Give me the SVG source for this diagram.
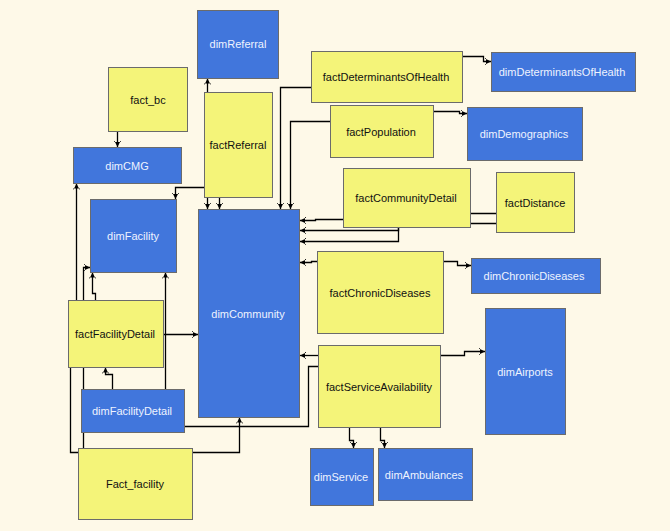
<svg xmlns="http://www.w3.org/2000/svg" width="670" height="531" viewBox="0 0 670 531">
<defs>
<marker id="ah" markerUnits="userSpaceOnUse" markerWidth="8" markerHeight="8" refX="6" refY="3.5" orient="auto">
<path d="M0,0.5 L6,3.5 L0,6.5 z M0,0 V7 H1 V0 z" fill="#000"/>
</marker>
<style>
.bg{fill:#FEF9E8}
.f rect{fill:#F4F479;stroke:#6B6B6B;stroke-width:1}
.d rect{fill:#4176DC;stroke:#6B6B6B;stroke-width:1}
text{font-family:"Liberation Sans",Arial,sans-serif;font-size:11px;text-anchor:middle;dominant-baseline:central}
.f text{fill:#111}
.d text{fill:#EEF3FF}
#connectors path{fill:none;stroke:#000;stroke-width:1.3}
#connectors path.a{marker-end:url(#ah)}
</style>
</defs>
<rect class="bg" x="0" y="0" width="670" height="531"/>
<g id="connectors">
<path class="a" d="M117.5,131 V147"/>
<path class="a" d="M207.5,92 V78.5"/>
<path class="a" d="M204,187.5 H175.5 V199"/>
<path class="a" d="M207.5,197 V209"/>
<path class="a" d="M219.5,197 V209"/>
<path class="a" d="M311,87.5 H280.5 V209"/>
<path class="a" d="M330,121.5 H290.5 V209"/>
<path class="a" d="M463,56.5 H483.5 V61.5 H491"/>
<path class="a" d="M433,111.5 H459.5 V113.5 H467"/>
<path class="a" d="M343,219.5 H315.5 V220.5 H300"/>
<path class="a" d="M496,213.5 H398.5 V230.5 H300"/>
<path class="a" d="M496,223.5 H398.5 V241.5 H300"/>
<path class="a" d="M317,261.5 H311.5 V262.5 H300"/>
<path class="a" d="M443,261.5 H457.5 V265.5 H471"/>
<path class="a" d="M318,355.5 H300"/>
<path class="a" d="M441,355.5 H464.5 V351.5 H485"/>
<path d="M318,366.5 H308.5 V426.5 H184"/>
<path class="a" d="M192,452.5 H239.5 V417.5"/>
<path class="a" d="M349.5,427 V440.5 H353.5 V448"/>
<path class="a" d="M380.5,427 V440.5 H384.5 V448"/>
<path class="a" d="M164,334.5 H198"/>
<path class="a" d="M165.5,389 V272.5"/>
<path class="a" d="M112.5,389 V374.5 H105.5 V367.5"/>
<path class="a" d="M76.5,300 V183.5"/>
<path d="M78,452.5 H70.5 V367"/>
<path class="a" d="M83.5,448 V267.5 H90"/>
<path class="a" d="M95.5,300 V293.5 H92.5 V272.5"/>
</g>
<g id="dimReferral" class="d"><rect x="197.5" y="10.5" width="81" height="68"/><text x="238" y="44">dimReferral</text></g>
<g id="fact_bc" class="f"><rect x="108.5" y="67.5" width="79" height="64"/><text x="148" y="100">fact_bc</text></g>
<g id="dimCMG" class="d"><rect x="73.5" y="147.5" width="108" height="36"/><text x="127" y="166">dimCMG</text></g>
<g id="factReferral" class="f"><rect x="204.5" y="92.5" width="68" height="105"/><text x="238" y="145">factReferral</text></g>
<g id="factDeterminantsOfHealth" class="f"><rect x="311.5" y="51.5" width="151" height="51"/><text x="386" y="77">factDeterminantsOfHealth</text></g>
<g id="dimDeterminantsOfHealth" class="d"><rect x="491.5" y="52.5" width="144" height="39"/><text x="562" y="72">dimDeterminantsOfHealth</text></g>
<g id="factPopulation" class="f"><rect x="330.5" y="105.5" width="103" height="52"/><text x="381" y="132">factPopulation</text></g>
<g id="dimDemographics" class="d"><rect x="467.5" y="107.5" width="115" height="53"/><text x="524" y="134">dimDemographics</text></g>
<g id="factCommunityDetail" class="f"><rect x="343.5" y="168.5" width="127" height="59"/><text x="406" y="198">factCommunityDetail</text></g>
<g id="factDistance" class="f"><rect x="496.5" y="172.5" width="78" height="60"/><text x="535" y="203">factDistance</text></g>
<g id="dimFacility" class="d"><rect x="90.5" y="199.5" width="86" height="73"/><text x="133" y="236">dimFacility</text></g>
<g id="dimCommunity" class="d"><rect x="198.5" y="209.5" width="101" height="208"/><text x="248" y="314">dimCommunity</text></g>
<g id="factChronicDiseases" class="f"><rect x="317.5" y="251.5" width="126" height="82"/><text x="380" y="293">factChronicDiseases</text></g>
<g id="dimChronicDiseases" class="d"><rect x="471.5" y="258.5" width="129" height="35"/><text x="534" y="276">dimChronicDiseases</text></g>
<g id="factFacilityDetail" class="f"><rect x="68.5" y="300.5" width="95" height="67"/><text x="115" y="334">factFacilityDetail</text></g>
<g id="dimAirports" class="d"><rect x="485.5" y="308.5" width="80" height="126"/><text x="525" y="372">dimAirports</text></g>
<g id="factServiceAvailability" class="f"><rect x="318.5" y="345.5" width="122" height="82"/><text x="379" y="387">factServiceAvailability</text></g>
<g id="dimFacilityDetail" class="d"><rect x="81.5" y="389.5" width="103" height="43"/><text x="132" y="411">dimFacilityDetail</text></g>
<g id="Fact_facility" class="f"><rect x="78.5" y="448.5" width="114" height="71"/><text x="135" y="484">Fact_facility</text></g>
<g id="dimService" class="d"><rect x="310.5" y="448.5" width="63" height="57"/><text x="341" y="477">dimService</text></g>
<g id="dimAmbulances" class="d"><rect x="378.5" y="448.5" width="94" height="52"/><text x="424" y="475">dimAmbulances</text></g>
</svg>
